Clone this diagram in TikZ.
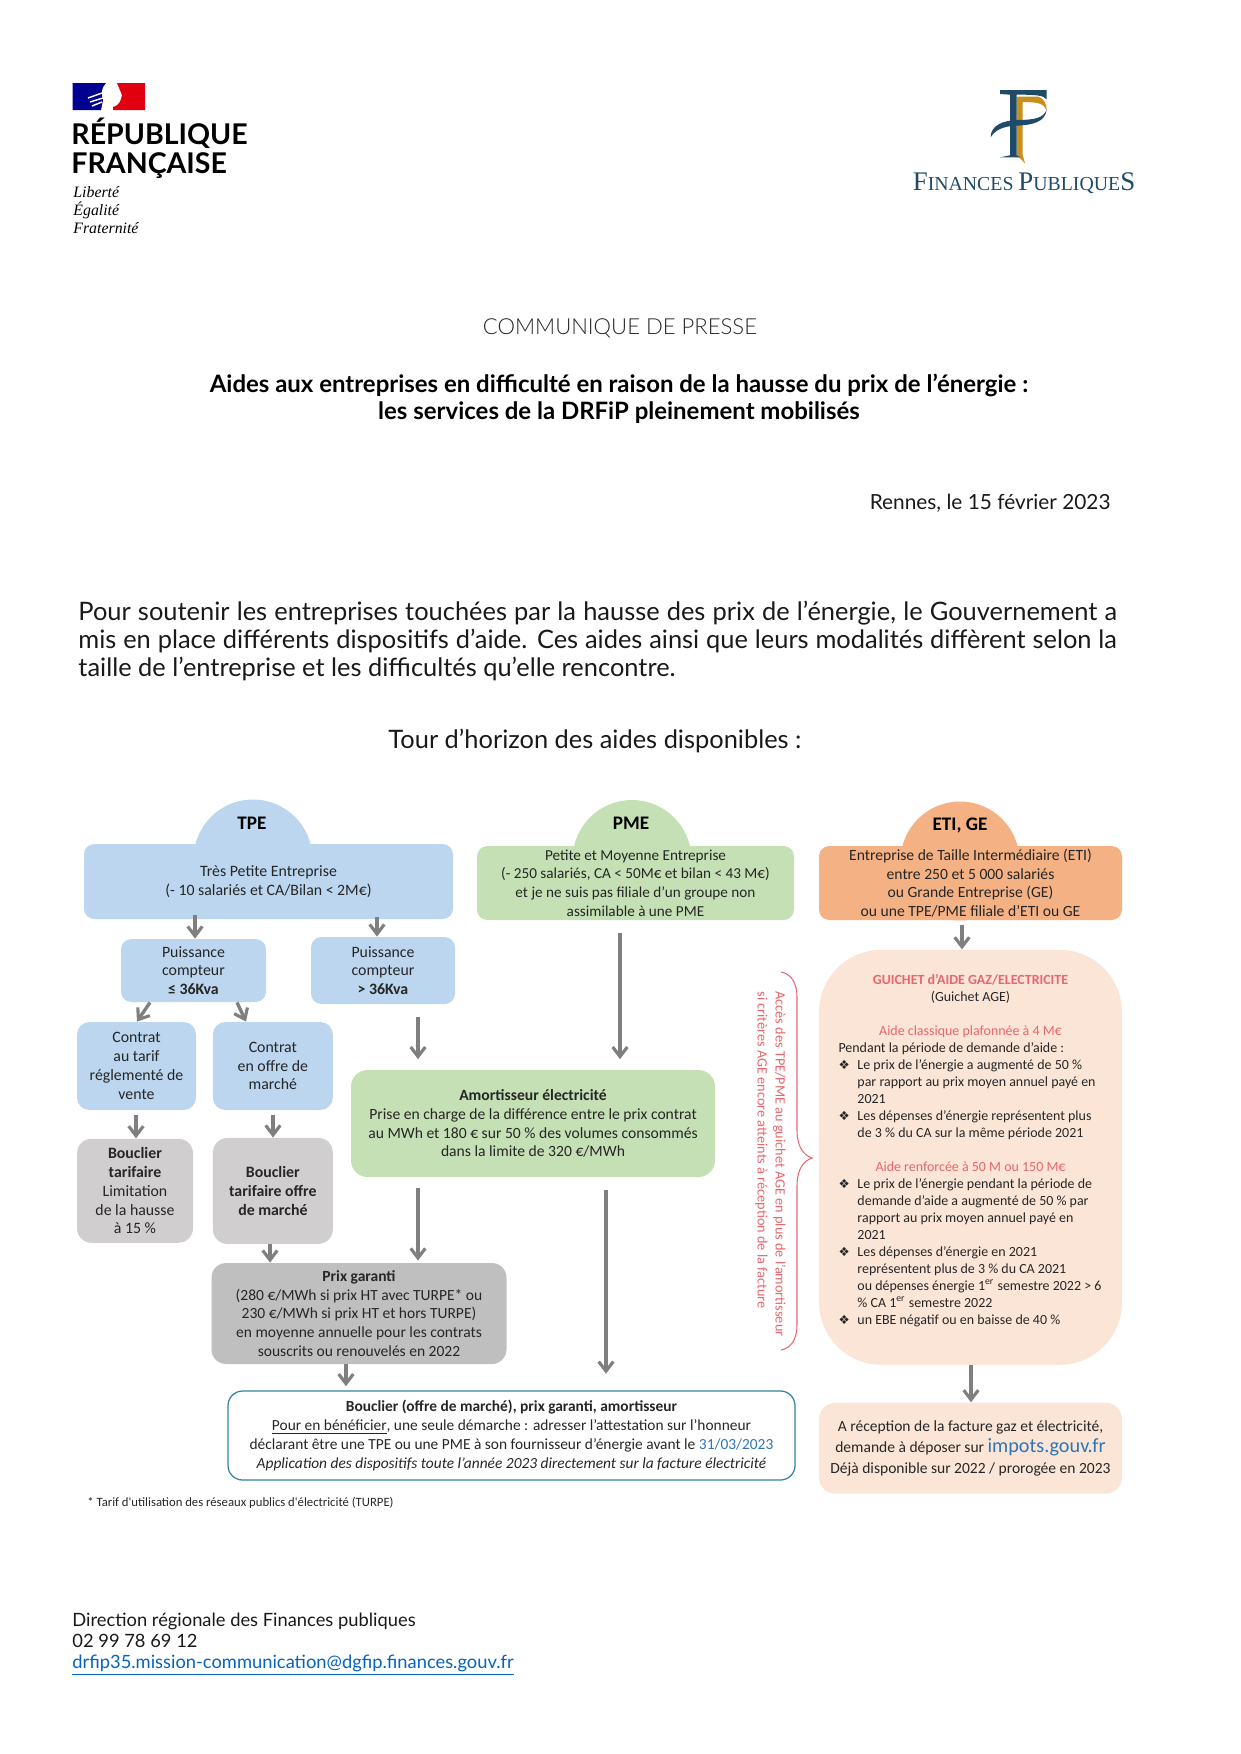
\documentclass[tikz,border=0pt]{standalone}
\usepackage{fontspec}
\usepackage{xcolor}
\usetikzlibrary{arrows.meta,positioning}
\setmainfont{Lato}
\newfontfamily\lightfont{Lato Light}
\newfontfamily\calibri{Carlito}
\newfontfamily\timesfont{Liberation Serif}
\newfontfamily\symfont{DejaVu Sans}
\definecolor{TpeBlue}{HTML}{BBD6EE}
\definecolor{PmeGreen}{HTML}{C5E0B4}
\definecolor{EtiOrange}{HTML}{F4B183}
\definecolor{AgePeach}{HTML}{FBE5D6}
\definecolor{ShieldGrey}{HTML}{D0CECE}
\definecolor{PriceGrey}{HTML}{BFBFBF}
\definecolor{ArrowGrey}{HTML}{7F7F7F}
\definecolor{FrameTeal}{HTML}{31859C}
\definecolor{AgeRed}{HTML}{E8666E}
\definecolor{InkDark}{HTML}{262626}
\definecolor{LinkBlue}{HTML}{0563C1}
\definecolor{WebBlue}{HTML}{2E75B6}
\definecolor{LogoBlue}{HTML}{1F4A68}
\definecolor{LogoGold}{HTML}{C8901A}
\definecolor{FlagBlue}{HTML}{000091}
\definecolor{FlagRed}{HTML}{E1000F}
\newcommand{\puce}{\makebox[9.1pt][l]{{\symfont\fontsize{6}{8}\selectfont ❖}}}
\newcommand{\indt}{\hspace*{9.1pt}}

\begin{document}
\begin{tikzpicture}[
	x=0.48pt, y=-0.48pt,
	box/.style={rounded corners=5pt, align=center, inner sep=0pt, text=InkDark, font=\calibri\fontsize{7.6}{9}\selectfont},
	boxsize/.style 2 args={minimum width=#1*0.48pt, minimum height=#2*0.48pt},
	tpebox/.style={box, fill=TpeBlue},
	pmebox/.style={box, fill=PmeGreen},
	etibox/.style={box, fill=EtiOrange},
	agebox/.style={box, fill=AgePeach},
	shieldbox/.style={box, fill=ShieldGrey, rounded corners=7pt},
	dome/.style={circle, minimum size=57.1pt, inner sep=0pt},
	headtext/.style={inner sep=0pt, font=\calibri\bfseries\fontsize{9.2}{11}\selectfont},
	pagetext/.style={inner sep=0pt, font=\fontsize{10}{13}\selectfont, text=black!90},
	arrow/.style={-{Straight Barb[length=4.6pt,width=7pt,line width=1.5pt]}, line width=1.6pt, ArrowGrey}
]
\useasboundingbox (0,0) rectangle (1241,1754);

% logos
\fill[FlagBlue] (72.7,83) -- (106,83) .. controls (101,88) and (101,94) .. (103,100) -- (101,110) -- (72.7,110) -- cycle;
\fill[FlagRed] (117,83) -- (145,83) -- (145,110) -- (113,110) -- (113,107) .. controls (120,105) and (121,100) .. (122,95) .. controls (120,90) and (119,88) .. (117,83) -- cycle;
\draw[white, line width=.7pt] (88,98) -- (102,93) (90,102) -- (103,98) (92,106) -- (102,102);
\node[inner sep=0pt, anchor=base west, font=\bfseries\fontsize{13.7}{15}\selectfont] (rfone) at (71,144) {RÉPUBLIQUE};
\node[inner sep=0pt, anchor=base west, font=\bfseries\fontsize{13.7}{15}\selectfont] (rftwo) at (71,173) {FRANÇAISE};
\node[inner sep=0pt, anchor=north west, align=left, font=\timesfont\itshape\fontsize{7.6}{8.7}\selectfont] (rfmotto) at (73,186) {Liberté\\Égalité\\Fraternité};

\begin{scope}[shift={(900,80)}, x=0.16pt, y=-0.16pt]
	\fill[LogoGold] (350,50) -- (415,50) .. controls (432,55) and (440,72) .. (440,92) .. controls (432,72) and (420,66) .. (368,66) -- (368,225) -- (375,250) -- (358,232) -- (350,232) -- cycle;
	\fill[LogoBlue] (300,30) -- (440,30) -- (440,58) .. controls (430,46) and (410,44) .. (350,44) -- (350,226) -- (362,232) -- (300,232) -- (330,226) -- (330,44) -- (300,42) -- cycle;
	\fill[LogoBlue] (440,90) .. controls (435,125) and (400,135) .. (350,137) .. controls (310,138) and (285,150) .. (272,172) .. controls (272,135) and (310,122) .. (350,120) .. controls (400,120) and (430,115) .. (440,90) -- cycle;
\end{scope}
\node[inner sep=0pt, anchor=base, text=LogoBlue, font=\timesfont] (fpname) at (1024,190) {\fontsize{12.9}{14}\selectfont F\fontsize{9.5}{14}\selectfont INANCES \fontsize{12.9}{14}\selectfont P\fontsize{9.5}{14}\selectfont UBLIQUE\fontsize{12.9}{14}\selectfont S};

% page text
\node[inner sep=0pt, text=black!85, font=\lightfont\fontsize{10.6}{12}\selectfont] (press) at (620,328) {COMMUNIQUE DE PRESSE};
\node[inner sep=0pt, align=center, font=\bfseries\fontsize{11.5}{12.9}\selectfont] (title) at (619,399) {Aides aux entreprises en difficulté en raison de la hausse du prix de l’énergie :\\les services de la DRFiP pleinement mobilisés};
\node[pagetext, anchor=east] (place) at (1111,503) {Rennes, le 15 février 2023};
\node[pagetext, anchor=north west, text width=498.5pt, align=justify, font=\fontsize{12.2}{13.44}\selectfont] (intro) at (78,601) {Pour soutenir les entreprises touchées par la hausse des prix de l’énergie, le Gouvernement a\linebreak mis en place différents dispositifs d’aide. Ces aides ainsi que leurs modalités diffèrent selon la\linebreak taille de l’entreprise et les difficultés qu’elle rencontre.};
\node[pagetext, font=\fontsize{12.2}{13}\selectfont] (tour) at (595,741) {Tour d’horizon des aides disponibles :};

% heads
\node[dome, fill=TpeBlue] (tpehead) at (253,859) {};
\node[dome, fill=PmeGreen] (pmehead) at (632,859.5) {};
\node[dome, fill=EtiOrange] (etihead) at (960,861) {};

% boxes
\node[tpebox, boxsize={369}{75}] (tpe) at (268.5,881.5) {Très Petite Entreprise\\(- 10 salariés et CA/Bilan < 2M€)};
\node[pmebox, boxsize={317}{74}, font=\calibri\fontsize{7.3}{9}\selectfont] (pme) at (635.5,883) {Petite et Moyenne Entreprise\\(- 250 salariés, CA < 50M€ et bilan < 43 M€)\\et je ne suis pas filiale d’un groupe non\\assimilable à une PME};
\node[etibox, boxsize={303}{74}, font=\calibri\fontsize{7.5}{9}\selectfont] (eti) at (970.5,883) {Entreprise de Taille Intermédiaire (ETI)\\entre 250 et 5 000 salariés\\ou Grande Entreprise (GE)\\ou une TPE/PME filiale d’ETI ou GE};
\node[headtext] (tpetitle) at (252,823) {TPE};
\node[headtext] (pmetitle) at (631,823) {PME};
\node[headtext] (etititle) at (960,825) {ETI, GE};

\node[tpebox, boxsize={145}{63}] (ptwo) at (193.5,970.5) {Puissance\\compteur\\\textbf{≤ 36Kva}};
\node[tpebox, boxsize={144}{67}] (pthree) at (383,970.5) {Puissance\\compteur\\\textbf{> 36Kva}};
\node[tpebox, boxsize={119}{88}, rounded corners=6pt] (tariff) at (136.5,1066) {Contrat\\au tarif\\réglementé de\\vente};
\node[tpebox, boxsize={120}{88}, rounded corners=6pt, right=7.7pt of tariff] (offer) {Contrat\\en offre de\\marché};
\node[shieldbox, boxsize={116}{104}, below=13.4pt of tariff.south west, anchor=north west] (shieldone) {\textbf{Bouclier}\\\textbf{tarifaire}\\Limitation\\de la hausse\\à 15 \%};
\node[shieldbox, boxsize={120}{106}, below=13pt of offer] (shieldtwo) {\textbf{Bouclier}\\\textbf{tarifaire offre}\\\textbf{de marché}};
\node[pmebox, boxsize={364}{107}, rounded corners=8pt, font=\calibri\fontsize{7.5}{9}\selectfont] (damper) at (533,1123.5) {\textbf{Amortisseur électricité}\\Prise en charge de la différence entre le prix contrat\\au MWh et 180 € sur 50 \% des volumes consommés\\dans la limite de 320 €/MWh};
\node[box, fill=PriceGrey, boxsize={295}{101}, rounded corners=7pt, font=\calibri\fontsize{7.45}{9}\selectfont] (price) at (359,1313.5) {\textbf{Prix garanti}\\(280 €/MWh si prix HT avec TURPE* ou\\230 €/MWh si prix HT et hors TURPE)\\en moyenne annuelle pour les contrats\\souscrits ou renouvelés en 2022};
\node[box, draw=FrameTeal, line width=.6pt, boxsize={567}{89}, rounded corners=7pt, font=\calibri\fontsize{7.4}{9}\selectfont] (shield) at (511.5,1435.5) {\textbf{Bouclier (offre de marché), prix garanti, amortisseur}\\\underline{Pour en bénéficier}, une seule démarche : adresser l’attestation sur l’honneur\\déclarant être une TPE ou une PME à son fournisseur d’énergie avant le \textcolor{WebBlue}{31/03/2023}\\\textit{Application des dispositifs toute l’année 2023 directement sur la facture électricité}};
\node[agebox, boxsize={303}{415}, rounded corners=30pt, below=13.9pt of eti, align=left, font=\calibri\fontsize{6.7}{8.16}\selectfont] (desk) {%
\makebox[126.7pt]{\textcolor{AgeRed}{\textbf{GUICHET d’AIDE GAZ/ELECTRICITE}}}\\
\makebox[126.7pt]{(Guichet AGE)}\\[8.16pt]
\makebox[126.7pt]{\textcolor{AgeRed}{Aide classique plafonnée à 4 M€}}\\
Pendant la période de demande d’aide :\\
\puce Le prix de l’énergie a augmenté de 50 \%\\
\indt par rapport au prix moyen annuel payé en\\
\indt 2021\\
\puce Les dépenses d’énergie représentent plus\\
\indt de 3 \% du CA sur la même période 2021\\[8.16pt]
\makebox[126.7pt]{\textcolor{AgeRed}{Aide renforcée à 50 M ou 150 M€}}\\
\puce Le prix de l’énergie pendant la période de\\
\indt demande d’aide a augmenté de 50 \% par\\
\indt rapport au prix moyen annuel payé en\\
\indt 2021\\
\puce Les dépenses d’énergie en 2021\\
\indt représentent plus de 3 \% du CA 2021\\
\indt ou dépenses énergie 1\textsuperscript{er} semestre 2022 > 6\\
\indt \% CA 1\textsuperscript{er} semestre 2022\\
\puce un EBE négatif ou en baisse de 40 \%\\[-3.4pt]
\strut};
\node[agebox, boxsize={303}{91}, rounded corners=8pt, below=17.8pt of desk, font=\calibri\fontsize{7.45}{10}\selectfont] (claim) {A réception de la facture gaz et électricité,\\demande à déposer sur \textcolor{WebBlue}{\fontsize{9.7}{10}\selectfont impots.gouv.fr}\\Déjà disponible sur 2022 / prorogée en 2023};

\node[inner sep=0pt, anchor=west, text=InkDark, font=\calibri\fontsize{6.1}{7}\selectfont] (note) at (87,1503) {* Tarif d'utilisation des réseaux publics d'électricité (TURPE)};

% brace and its side text
\draw[AgeRed, line width=.5pt] (781,972) .. controls (792,974) and (797,984) .. (797,997) -- (797,1130) .. controls (797,1146) and (803,1155) .. (812,1158) .. controls (803,1161) and (797,1170) .. (797,1186) -- (797,1325) .. controls (797,1338) and (792,1348) .. (781,1350);
\node[inner sep=0pt, rotate=-90, anchor=north west, align=left, text=AgeRed, font=\calibri\fontsize{6.85}{8.64}\selectfont] (access) at (786,991) {Accès des TPE/PME au guichet AGE en plus de l’amortisseur\\si critères AGE encore atteints à réception de la facture};

% arrows
\draw[arrow, shorten <=-2pt] (195,0 |- tpe.south) -- (195,0 |- ptwo.north);
\draw[arrow, shorten <=-1pt] (377,0 |- tpe.south) -- (377,0 |- pthree.north);
\draw[arrow] (150,0 |- ptwo.south) -- (137,0 |- tariff.north);
\draw[arrow] (237,0 |- ptwo.south) -- (246,0 |- offer.north);
\draw[arrow, shorten <=2.4pt] (136,0 |- tariff.south) -- (136,0 |- shieldone.north);
\draw[arrow, shorten <=2.4pt] (273,0 |- offer.south) -- (273,0 |- shieldtwo.north);
\draw[arrow, shorten <=6pt, shorten >=5pt] (418,0 |- pthree.south) -- (418,0 |- damper.north);
\draw[arrow, shorten <=6pt, shorten >=5pt] (620,0 |- pme.south) -- (620,0 |- damper.north);
\draw[arrow, shorten <=5pt, shorten >=1pt] (418,0 |- damper.south) -- (418,0 |- price.north);
\draw[arrow] (270,0 |- shieldtwo.south) -- (270,0 |- price.north);
\draw[arrow, shorten >=2pt] (346,0 |- price.south) -- (346,0 |- shield.north);
\draw[arrow, shorten <=6pt, shorten >=8pt] (606,0 |- damper.south) -- (606,0 |- shield.north);
\draw[arrow, shorten <=2pt] (962,0 |- eti.south) -- (962,0 |- desk.north);
\draw[arrow] (971,0 |- desk.south) -- (971,0 |- claim.north);

% footer
\node[pagetext, anchor=north west, align=left, font=\fontsize{8.8}{10}\selectfont] (contact) at (72,1613) {Direction régionale des Finances publiques\\02 99 78 69 12\\\textcolor{LinkBlue}{\underline{drfip35.mission-communication@dgfip.finances.gouv.fr}}};
\end{tikzpicture}
\end{document}
